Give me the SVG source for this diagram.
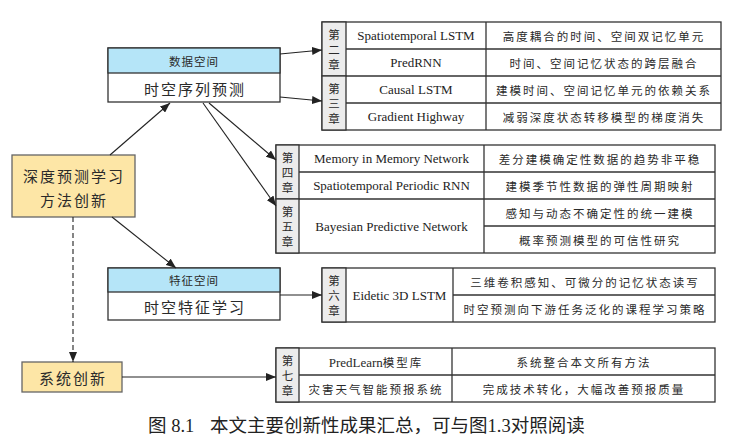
<svg xmlns="http://www.w3.org/2000/svg" width="738" height="445" viewBox="0 0 738 445">
<style>
.bd{fill:none;stroke:#333;stroke-width:1.3}
.w{fill:#fff;stroke:#333;stroke-width:1.3}
.g{fill:#ececec;stroke:#333;stroke-width:1.3}
.b{fill:#b5e5f8;stroke:#333;stroke-width:1.3}
.y{fill:#fde6a6;stroke:#666;stroke-width:1.3}
.ln{stroke:#333;stroke-width:1.3}
.cn{font-family:"Noto Sans CJK SC",sans-serif;font-size:11.5px;letter-spacing:2px;fill:#2a2a2a;text-anchor:middle;dominant-baseline:central}
.ch{font-family:"Noto Sans CJK SC",sans-serif;font-size:11.5px;fill:#2a2a2a;text-anchor:middle;dominant-baseline:central}
.en{font-family:"Liberation Serif",serif;font-size:13px;fill:#222;text-anchor:middle;dominant-baseline:central}
.big{font-family:"Noto Sans CJK SC",sans-serif;font-size:15px;letter-spacing:2px;fill:#2a2a2a;text-anchor:middle;dominant-baseline:central}
.hd{font-family:"Noto Sans CJK SC",sans-serif;font-size:11.5px;letter-spacing:1px;fill:#2a2a2a;text-anchor:middle;dominant-baseline:central}
.cap{font-family:"Liberation Serif","Noto Sans CJK SC",serif;font-size:18.5px;fill:#222}
.c{stroke:#222;stroke-width:1.1;fill:none;marker-end:url(#ah)}
.d{stroke:#222;stroke-width:1.1;fill:none;stroke-dasharray:5,3;marker-end:url(#ah)}
</style>
<defs>
<marker id="ah" viewBox="0 0 10 8" refX="10" refY="4" markerWidth="10" markerHeight="8" markerUnits="userSpaceOnUse" orient="auto">
<path d="M0,0 L10,4 L0,8 Z" fill="#222"/>
</marker>
</defs>

<g id="root">
<rect class="y" x="12" y="155" width="123" height="62"/>
<text class="big" x="74" y="175">深度预测学习</text>
<text class="big" x="74" y="199">方法创新</text>
</g>

<g id="data-space">
<rect class="w" x="108" y="48" width="172" height="54"/>
<rect class="b" x="108" y="48" width="172" height="25"/>
<text class="hd" x="194" y="61">数据空间</text>
<text class="big" x="195" y="88">时空序列预测</text>
</g>

<g id="feature-space">
<rect class="w" x="108" y="268" width="172" height="52"/>
<rect class="b" x="108" y="268" width="172" height="24"/>
<text class="hd" x="194" y="280">特征空间</text>
<text class="big" x="195" y="306">时空特征学习</text>
</g>

<g id="system">
<rect class="y" x="22" y="362" width="100" height="30"/>
<text class="big" x="73" y="377">系统创新</text>
</g>

<g id="table-ch2-3">
<rect class="w" x="322" y="22" width="399" height="108"/>
<rect class="g" x="322" y="22" width="24" height="54"/>
<rect class="g" x="322" y="76" width="24" height="54"/>
<line class="ln" x1="486" y1="22" x2="486" y2="130"/>
<line class="ln" x1="346" y1="49" x2="721" y2="49"/>
<line class="ln" x1="346" y1="76" x2="721" y2="76"/>
<line class="ln" x1="346" y1="103" x2="721" y2="103"/>
<text class="ch" x="334" y="34">第</text><text class="ch" x="334" y="49">二</text><text class="ch" x="334" y="64">章</text>
<text class="ch" x="334" y="88">第</text><text class="ch" x="334" y="103">三</text><text class="ch" x="334" y="118">章</text>
<text class="en" x="416" y="35.5">Spatiotemporal LSTM</text>
<text class="en" x="416" y="62.5">PredRNN</text>
<text class="en" x="416" y="89.5">Causal LSTM</text>
<text class="en" x="416" y="116.5">Gradient Highway</text>
<text class="cn" x="604" y="35.5">高度耦合的时间、空间双记忆单元</text>
<text class="cn" x="604" y="62.5">时间、空间记忆状态的跨层融合</text>
<text class="cn" x="604" y="89.5">建模时间、空间记忆单元的依赖关系</text>
<text class="cn" x="604" y="116.5">减弱深度状态转移模型的梯度消失</text>
</g>

<g id="table-ch4-5">
<rect class="w" x="276" y="145" width="439" height="108"/>
<rect class="g" x="276" y="145" width="23" height="54"/>
<rect class="g" x="276" y="199" width="23" height="54"/>
<line class="ln" x1="484" y1="145" x2="484" y2="253"/>
<line class="ln" x1="299" y1="172" x2="715" y2="172"/>
<line class="ln" x1="299" y1="199" x2="715" y2="199"/>
<line class="ln" x1="484" y1="226" x2="715" y2="226"/>
<text class="ch" x="287.5" y="157">第</text><text class="ch" x="287.5" y="172">四</text><text class="ch" x="287.5" y="187">章</text>
<text class="ch" x="287.5" y="211">第</text><text class="ch" x="287.5" y="226">五</text><text class="ch" x="287.5" y="241">章</text>
<text class="en" x="391.5" y="158.5">Memory in Memory Network</text>
<text class="en" x="391.5" y="185.5">Spatiotemporal Periodic RNN</text>
<text class="en" x="391.5" y="226">Bayesian Predictive Network</text>
<text class="cn" x="600" y="158.5">差分建模确定性数据的趋势非平稳</text>
<text class="cn" x="600" y="185.5">建模季节性数据的弹性周期映射</text>
<text class="cn" x="600" y="212.5">感知与动态不确定性的统一建模</text>
<text class="cn" x="600" y="239.5">概率预测模型的可信性研究</text>
</g>

<g id="table-ch6">
<rect class="w" x="322" y="268" width="393" height="54"/>
<rect class="g" x="322" y="268" width="24" height="54"/>
<line class="ln" x1="453" y1="268" x2="453" y2="322"/>
<line class="ln" x1="453" y1="295" x2="715" y2="295"/>
<text class="ch" x="334" y="280">第</text><text class="ch" x="334" y="295">六</text><text class="ch" x="334" y="310">章</text>
<text class="en" x="399.5" y="295">Eidetic 3D LSTM</text>
<text class="cn" x="585" y="281.5">三维卷积感知、可微分的记忆状态读写</text>
<text class="cn" x="585" y="308.5">时空预测向下游任务泛化的课程学习策略</text>
</g>

<g id="table-ch7">
<rect class="w" x="276" y="348" width="439" height="54"/>
<rect class="g" x="276" y="348" width="23" height="54"/>
<line class="ln" x1="452" y1="348" x2="452" y2="402"/>
<line class="ln" x1="299" y1="375" x2="715" y2="375"/>
<text class="ch" x="287.5" y="360">第</text><text class="ch" x="287.5" y="375">七</text><text class="ch" x="287.5" y="390">章</text>
<text class="cn" x="376" y="361.5"><tspan font-family="Liberation Serif" font-size="13px" letter-spacing="0">PredLearn</tspan>模型库</text>
<text class="cn" x="376" y="388.5">灾害天气智能预报系统</text>
<text class="cn" x="584" y="361.5">系统整合本文所有方法</text>
<text class="cn" x="584" y="388.5">完成技术转化，大幅改善预报质量</text>
</g>

<g id="connectors">
<line class="c" x1="110" y1="155" x2="170" y2="103"/>
<line class="c" x1="280" y1="54" x2="322" y2="50"/>
<line class="c" x1="280" y1="97" x2="322" y2="101"/>
<line class="c" x1="209" y1="103" x2="276" y2="160"/>
<line class="c" x1="203" y1="103" x2="276" y2="206"/>
<line class="c" x1="112" y1="217" x2="176" y2="268"/>
<line class="c" x1="280" y1="295" x2="322" y2="295"/>
<line class="d" x1="73" y1="217" x2="73" y2="362"/>
<line class="c" x1="122" y1="377" x2="276" y2="377"/>
</g>

<text class="cap" x="148" y="432">图 8.1</text>
<text class="cap" x="210" y="432">本文主要创新性成果汇总，可与图1.3对照阅读</text>
</svg>
